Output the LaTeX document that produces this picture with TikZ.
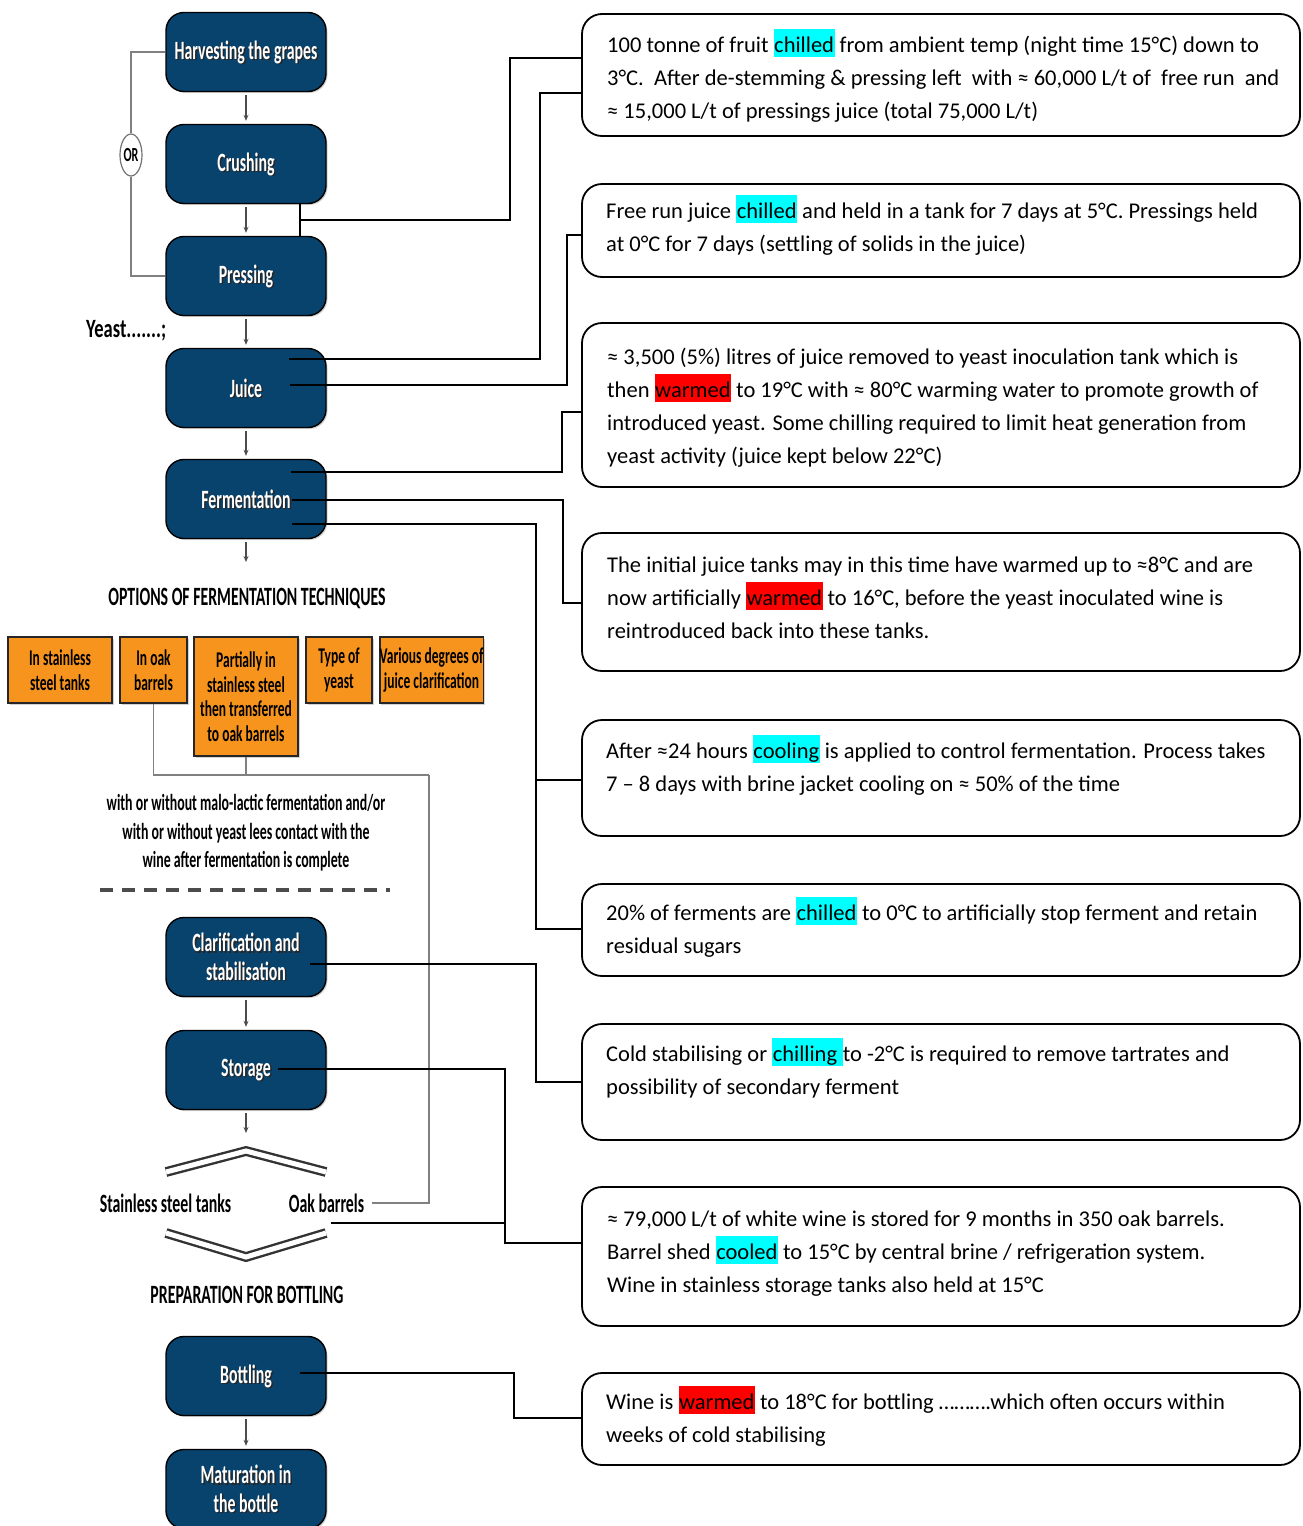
\documentclass[tikz,border=0pt]{standalone}
\usepackage{fontspec}
\setmainfont{Carlito}
\newfontfamily\cond[FakeStretch=0.6]{Carlito}
\usetikzlibrary{shapes.geometric,arrows.meta,shadows}
\definecolor{boxblue}{RGB}{8,67,110}
\definecolor{boxorange}{RGB}{247,148,30}
\definecolor{hlcyan}{RGB}{0,255,255}
\definecolor{hlred}{RGB}{255,0,0}
\newcommand\hlc[1]{{\setlength\fboxsep{0pt}\colorbox{hlcyan}{\vrule height 23pt depth 5pt width 0pt\kern0.5pt#1\kern0.5pt}}}
\newcommand\hlr[1]{{\setlength\fboxsep{0pt}\colorbox{hlred}{\vrule height 23pt depth 5pt width 0pt\kern0.5pt#1\kern0.5pt}}}
\newcommand\ls{\vrule height 24pt depth 9pt width 0pt}
\begin{document}
\begin{tikzpicture}[x=1pt,y=-1pt,
  bluefont/.style={font=\cond\bfseries\fontsize{26.4}{28.5}\selectfont},
  bluebox/.style={rounded corners=18pt, fill=boxblue, draw=black, line width=1.4pt,
    minimum width=160pt, minimum height=79pt, inner sep=0pt, text=white, align=center, bluefont,
    drop shadow={shadow xshift=1.5pt, shadow yshift=-1.5pt, opacity=0.35},
    path picture={\node[text=black!85, align=center, bluefont, inner sep=0pt]
      at ([shift={(1.5,1.5)}]path picture bounding box.center) {#1};}},
  arr/.style={-{Stealth[length=6pt,width=5pt]}, line width=1.1pt, draw=black!70},
  conn/.style={line width=1.8pt, draw=black},
  gline/.style={line width=1.3pt, draw=black!50},
  rbox/.style={draw=black, line width=1.8pt, rounded corners=20pt, fill=white, minimum width=718pt, inner sep=0pt},
  rtext/.style={anchor=north west, inner sep=0pt, align=left, font=\fontsize{22.5}{33}\selectfont},
  obox/.style={fill=boxorange, draw=black!85, line width=1.6pt, inner sep=0pt, align=center,
    font=\cond\bfseries\fontsize{22.5}{24.5}\selectfont,
    drop shadow={shadow xshift=1.5pt, shadow yshift=-1.5pt, opacity=0.35}},
  lab/.style={font=\cond\bfseries\fontsize{26.4}{28}\selectfont, inner sep=0pt}]
\useasboundingbox (0,0) rectangle (1302,1526);

% ---------- left column: process steps ----------
\node[bluebox={Harvesting the grapes}] (harv) at (246,52) {Harvesting the grapes};
\node[bluebox={Crushing}] (crush) at (246,164) {Crushing};
\node[bluebox={Pressing}] (press) at (246,276) {Pressing};
\node[bluebox={Juice}] (juice) at (246,388) {Juice};
\node[bluebox={Fermentation}] (ferm) at (246,499) {Fermentation};
\node[bluebox={Clarification and\\stabilisation}] (clar) at (246,957) {Clarification and\\stabilisation};
\node[bluebox={Storage}] (stor) at (246,1070) {Storage};
\node[bluebox={Bottling}] (bott) at (246,1376) {Bottling};
\node[bluebox={Maturation in\\the bottle}] (matur) at (246,1489) {Maturation in\\the bottle};

\draw[arr] ([yshift=-3pt]harv.south) -- ([yshift=3pt]crush.north);
\draw[arr] ([yshift=-3pt]crush.south) -- ([yshift=3pt]press.north);
\draw[arr] ([yshift=-3pt]press.south) -- ([yshift=3pt]juice.north);
\draw[arr] ([yshift=-3pt]juice.south) -- ([yshift=3pt]ferm.north);
\coordinate (fa) at (246,562);
\draw[arr] ([yshift=-3pt]ferm.south) -- (fa);
\draw[arr] ([yshift=-3pt]clar.south) -- ([yshift=3pt]stor.north);
\coordinate (sa) at (246,1133);
\draw[arr] ([yshift=-3pt]stor.south) -- (sa);
\draw[arr] ([yshift=-3pt]bott.south) -- ([yshift=3pt]matur.north);

% OR branch
\node[ellipse, draw=black!55, line width=1.2pt, fill=white, minimum width=22pt, minimum height=42pt,
  inner sep=0pt, font=\cond\bfseries\fontsize{20}{20}\selectfont] (orn) at (131,155) {OR};
\draw[gline] (harv.west) -| (orn.north);
\draw[gline] (orn.south) |- (press.west);

\node[lab, anchor=west] (yeast) at (86,331) {\scalebox{1.17}[1]{Yeast.......;}};

% options
\node[lab] (opt) at (247,598) {OPTIONS OF FERMENTATION TECHNIQUES};
\node[obox, minimum width=104pt, minimum height=66pt] (o1) at (60,670) {In stainless\\steel tanks};
\node[obox, minimum width=67pt, minimum height=66pt] (o2) at (153.5,670) {In oak\\barrels};
\node[obox, minimum width=104pt, minimum height=119pt] (o3) at (246,696.5) {Partially in\\stainless steel\\then transferred\\to oak barrels};
\node[obox, minimum width=66pt, minimum height=66pt] (o4) at (339,670) {Type of\\yeast};
\node[obox, minimum width=103pt, minimum height=66pt] (o5) at (431.5,670) {Various degrees of\\juice clarification};

\coordinate (jn) at (429,775);
\draw[gline] (o2.south) |- (jn);
\draw[gline] (o3.south) -- (o3.south |- jn);

\node[align=center, inner sep=0pt, font=\cond\bfseries\fontsize{23.1}{28.5}\selectfont] (malo) at (246,833)
  {with or without malo-lactic fermentation and/or\\with or without yeast lees contact with the\\wine after fermentation is complete};

\coordinate (d1) at (100,890);
\coordinate (d2) at (390,890);
\draw[line width=4pt, black!70, dash pattern=on 13pt off 9pt] (d1) -- (d2);

% storage split
\coordinate (cv1) at (166,1172); \coordinate (cv2) at (246,1151); \coordinate (cv3) at (326,1172);
\draw[double=white, double distance=5pt, line width=2.4pt, draw=black!80] (cv1) -- (cv2) -- (cv3);
\node[lab] (ss) at (165.5,1203) {Stainless steel tanks};
\node[lab] (oak) at (326.5,1203) {Oak barrels};
\coordinate (cw1) at (166,1233); \coordinate (cw2) at (246,1257); \coordinate (cw3) at (326,1233);
\draw[double=white, double distance=5pt, line width=2.4pt, draw=black!80] (cw1) -- (cw2) -- (cw3);
\draw[gline] (jn) |- ([xshift=8pt]oak.east);

\node[lab] (prep) at (247,1295) {PREPARATION FOR BOTTLING};

% ---------- right column: notes ----------
\node[rbox, minimum height=122pt] (bA) at (941,75) {};
\node[rbox, minimum height=93pt] (bB) at (941,230.5) {};
\node[rbox, minimum height=164pt] (bC) at (941,405) {};
\node[rbox, minimum height=138pt] (bD) at (941,602) {};
\node[rbox, minimum height=116pt] (bE) at (941,778) {};
\node[rbox, minimum height=92pt] (bF) at (941,930) {};
\node[rbox, minimum height=116pt] (bG) at (941,1082) {};
\node[rbox, minimum height=139pt] (bH) at (941,1256.5) {};
\node[rbox, minimum height=92pt] (bI) at (941,1419) {};

\node[rtext] (tA) at (607,28.2) {\ls 100 tonne of fruit \hlc{chilled} from ambient temp (night time 15°C) down to\\3°C.\ \ After de-stemming \& pressing left\ \ with ≈ 60,000 L/t of\ \ free run\ \ and\\≈ 15,000 L/t of pressings juice (total 75,000 L/t)};
\node[rtext] (tB) at (606,194.2) {\ls Free run juice \hlc{chilled} and held in a tank for 7 days at 5°C. Pressings held\\at 0°C for 7 days (settling of solids in the juice)};
\node[rtext] (tC) at (607,340.2) {\ls ≈ 3,500 (5\%) litres of juice removed to yeast inoculation tank which is\\then \hlr{warmed} to 19°C with ≈ 80°C warming water to promote growth of\\introduced yeast. Some chilling required to limit heat generation from\\yeast activity (juice kept below 22°C)};
\node[rtext] (tD) at (607,548.2) {\ls The initial juice tanks may in this time have warmed up to ≈8°C and are\\now artificially \hlr{warmed} to 16°C, before the yeast inoculated wine is\\reintroduced back into these tanks.};
\node[rtext] (tE) at (606,734.2) {\ls After ≈24 hours \hlc{cooling} is applied to control fermentation. Process takes\\7 – 8 days with brine jacket cooling on ≈ 50\% of the time};
\node[rtext] (tF) at (606,896.2) {\ls 20\% of ferments are \hlc{chilled} to 0°C to artificially stop ferment and retain\\residual sugars};
\node[rtext] (tG) at (606,1037.2) {\ls Cold stabilising or \hlc{chilling }to -2°C is required to remove tartrates and\\possibility of secondary ferment};
\node[rtext] (tH) at (607,1202.2) {\ls ≈ 79,000 L/t of white wine is stored for 9 months in 350 oak barrels.\\Barrel shed \hlc{cooled} to 15°C by central brine / refrigeration system.\\Wine in stainless storage tanks also held at 15°C};
\node[rtext] (tI) at (606,1385.2) {\ls Wine is \hlr{warmed} to 18°C for bottling ……….which often occurs within\\weeks of cold stabilising};

% ---------- connectors ----------
\coordinate (kx) at (300,220);
\draw[conn] (crush.south -| kx) -- (press.north -| kx);
\draw[conn] (kx) -- (510,220) |- (bA.west |- 0,58);
\draw[conn] ([shift={(43,-29)}]juice.center) -- (540,359) |- (bA.west |- 0,93);
\draw[conn] ([shift={(44,-3)}]juice.center) -- (567,385) |- (bB.west |- 0,235);
\draw[conn] ([shift={(45,-27)}]ferm.center) -- (562,472) |- (bC.west |- 0,412);
\draw[conn] ([shift={(46,1)}]ferm.center) -- (563,500) |- (bD.west |- 0,603);
\draw[conn] ([shift={(46,25)}]ferm.center) -- (536,524) |- (bF.west |- 0,929);
\draw[conn] (536,780) -- (bE.west |- 0,780);
\draw[conn] ([shift={(64,7)}]clar.center) -- (536,964) |- (bG.west |- 0,1082);
\draw[conn] ([shift={(32,-1)}]stor.center) -- (505,1069) |- (bH.west |- 0,1243);
\draw[conn] ([shift={(4,20)}]oak.center) -- (505,1223);
\draw[conn] ([shift={(54,-3)}]bott.center) -- (514,1373) |- (bI.west |- 0,1418);
\end{tikzpicture}
\end{document}
